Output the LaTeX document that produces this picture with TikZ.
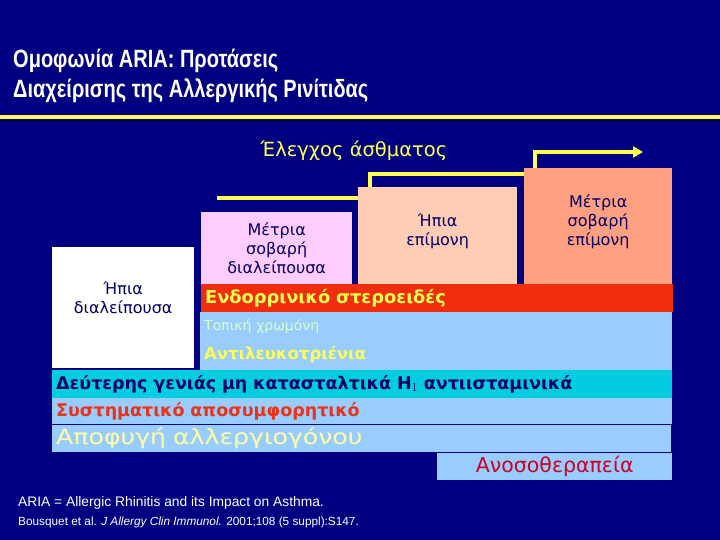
\documentclass[tikz,border=0pt]{standalone}
\usepackage{fontspec}
\setmainfont{DejaVu Sans}
\newfontfamily\titlefont[FakeStretch=0.8]{Liberation Sans}
\newfontfamily\widefont[FakeStretch=1.2]{DejaVu Sans}
\newfontfamily\notefont{Liberation Sans}
\usetikzlibrary{arrows.meta, positioning, calc}

\definecolor{slidebg}{RGB}{0,0,128}
\definecolor{boxtext}{RGB}{0,0,102}
\definecolor{pinkbox}{RGB}{255,204,255}
\definecolor{peachbox}{RGB}{255,204,180}
\definecolor{salmonbox}{RGB}{255,160,128}
\definecolor{redbar}{RGB}{240,45,12}
\definecolor{lightbar}{RGB}{153,204,255}
\definecolor{cyanbar}{RGB}{0,206,224}
\definecolor{ariayellow}{RGB}{255,255,80}
\definecolor{paleyellow}{RGB}{255,255,160}
\definecolor{palegreen}{RGB}{215,255,200}
\definecolor{decongred}{RGB}{235,50,20}
\definecolor{immured}{RGB}{204,0,34}

\begin{document}
\begin{tikzpicture}[x=1pt, y=-1pt,
    stepbox/.style={anchor=north west, inner sep=0pt, align=center, text=boxtext,
        font=\fontsize{16}{19}\selectfont},
    bar/.style={anchor=north west, inner xsep=4pt, inner ysep=0pt, align=left},
    stair/.style={draw=ariayellow, line width=4pt}]
    \fill[slidebg] (0,0) rectangle (720,540);
    \useasboundingbox (0,0) rectangle (720,540);

    % title and rule
    \node[anchor=north west, inner sep=0pt, align=left, text=white,
        font=\titlefont\bfseries\fontsize{25}{30}\selectfont] (title) at (13,49)
        {Ομοφωνία ARIA: Προτάσεις\\Διαχείρισης της Αλλεργικής Ρινίτιδας};
    \draw[ariayellow, line width=4pt] (0,117.5) -- (720,117.5);
    \draw[black!60!slidebg, line width=1.5pt] (0,120.5) -- (720,120.5);

    \node[text=ariayellow, font=\fontsize{19.5}{21}\selectfont] (control) at (354,151) {Έλεγχος άσθματος};

    % severity steps
    \node[stepbox, fill=white, minimum width=142pt, minimum height=121pt, text depth=20pt] (mildint) at (52,247) {Ήπια\\διαλείπουσα};
    \node[stepbox, fill=pinkbox, minimum width=151pt, minimum height=72pt] (modint) at (201,212) {Μέτρια\\σοβαρή\\διαλείπουσα};
    \node[stepbox, fill=peachbox, minimum width=159pt, minimum height=97pt, text depth=12pt] (mildper) at (358,187) {Ήπια\\επίμονη};
    \node[stepbox, fill=salmonbox, minimum width=148pt, minimum height=116pt, text depth=13pt] (modper) at (524,168) {Μέτρια\\σοβαρή\\επίμονη};

    % treatment bars
    \node[bar, fill=redbar, text width=464pt, minimum height=28pt, text=ariayellow,
        font=\bfseries\fontsize{17.8}{20}\selectfont] (steroid) at (201,284) {Ενδορρινικό στεροειδές};
    \node[bar, fill=lightbar, text width=464pt, minimum height=58pt,
        font=\fontsize{14}{29}\selectfont] (local) at (200,312)
        {{\color{palegreen}Τοπική χρωμόνη}\\{\color{ariayellow}\bfseries\fontsize{16.5}{29}\selectfont Αντιλευκοτριένια}};
    \node[bar, fill=cyanbar, text width=612pt, minimum height=28pt, text=boxtext,
        font=\bfseries\fontsize{17.5}{18}\selectfont] (antihist) at (52,370) {Δεύτερης γενιάς μη κατασταλτικά H$_1$ αντιισταμινικά};
    \node[bar, fill=lightbar, text width=612pt, minimum height=26pt, text=decongred,
        font=\bfseries\fontsize{17.5}{18}\selectfont] (decong) at (52,398) {Συστηματικό αποσυμφορητικό};
    \node[bar, fill=lightbar, text width=611pt, minimum height=27pt, text=paleyellow,
        font=\widefont\fontsize{21}{22}\selectfont] (avoid) at (52,425) {Αποφυγή αλλεργιογόνου};
    \node[bar, fill=lightbar, text width=227pt, minimum height=27pt, align=center, text=immured,
        font=\fontsize{20.5}{21}\selectfont] (immuno) at (437,453) {Ανοσοθεραπεία};

    % staircase arrow
    \coordinate (start) at (217,198);
    \coordinate (tip) at (643,152);
    \draw[stair] (start) -- (start -| mildper.west);
    \draw[stair] ([xshift=12pt]mildper.north west) |- ([yshift=-6pt]modper.north west);
    \draw[stair, -{Triangle[length=10pt, width=11pt]}] ([xshift=11pt]modper.north west) |- (tip);

    % footnote
    \node[anchor=base west, inner sep=0pt, text=white, font=\notefont\fontsize{13.8}{15}\selectfont] (ariadef) at (18,506)
        {ARIA = Allergic Rhinitis and its Impact on Asthma.};
    \node[anchor=base west, inner sep=0pt, text=white, font=\notefont\fontsize{11.8}{13}\selectfont] (source) at (18,525)
        {Bousquet et al. \textit{J Allergy Clin Immunol.} 2001;108 (5 suppl):S147.};
\end{tikzpicture}
\end{document}
